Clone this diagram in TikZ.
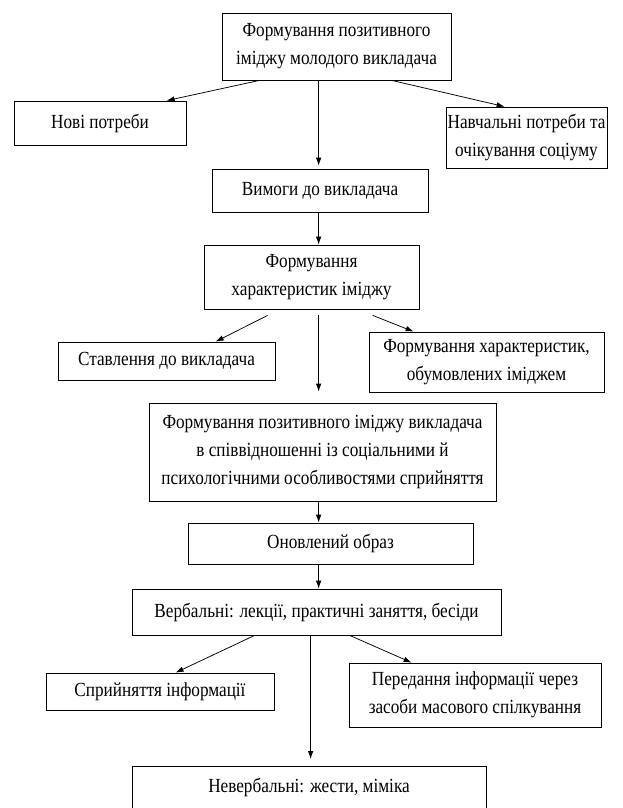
\documentclass[tikz,border=0pt]{standalone}
\usepackage{fontspec}
\setmainfont{Liberation Serif}[FakeStretch=0.86]
\usetikzlibrary{arrows.meta,calc}
\begin{document}
\begin{tikzpicture}[x=1pt,y=-1pt,
  box/.style={draw,line width=0.75pt,align=center,inner sep=0pt,
    font=\fontsize{20}{28}\selectfont},
  arr/.style={-{Latex[length=8pt,width=5.5pt]},line width=0.75pt}]
\useasboundingbox (0,0) rectangle (622,808);
% boxes
\node[box,minimum width=229pt,minimum height=67pt] (b1) at (336.5,46.5) {Формування позитивного\\іміджу молодого викладача};
\node[box,minimum width=172pt,minimum height=44pt] (nove) at (100,123) {Нові потреби};
\node[box,minimum width=161pt,minimum height=61pt] (navch) at (526.5,137.5) {Навчальні потреби та\\очікування соціуму};
\node[box,minimum width=216pt,minimum height=43pt] (vym) at (320,190.5) {Вимоги до викладача};
\node[box,minimum width=215pt,minimum height=64pt] (chr) at (311.5,277) {Формування\\характеристик іміджу};
\node[box,minimum width=217pt,minimum height=38pt] (stav) at (166.5,361) {Ставлення до викладача};
\node[box,minimum width=235pt,minimum height=60pt] (obum) at (486.5,362) {Формування характеристик,\\обумовлених іміджем};
\node[box,minimum width=347pt,minimum height=98pt] (big) at (322.5,452) {Формування позитивного іміджу викладача\\в співвідношенні із соціальними й\\психологічними особливостями сприйняття};
\node[box,minimum width=285pt,minimum height=41pt] (onov) at (330.5,543.5) {Оновлений образ};
\node[box,minimum width=369pt,minimum height=46pt] (verb) at (316.5,612) {Вербальні: лекції, практичні заняття, бесіди};
\node[box,minimum width=228pt,minimum height=37pt] (spr) at (160,691.5) {Сприйняття інформації};
\node[box,minimum width=252pt,minimum height=64pt] (pered) at (475,695) {Передання інформації через\\засоби масового спілкування};
\node[box,minimum width=354pt,minimum height=78pt,anchor=north,text depth=40pt] (never) at (309,766) {Невербальні: жести, міміка};
% arrows
\draw[arr] ($(b1.south west)+(38,0)$) -- ($(nove.north west)+(153,0)$);
\draw[arr] ($(b1.south west)+(97,0)$) -- ($(vym.north west)+(107,-3)$);
\draw[arr] ($(b1.south west)+(170,0)$) -- ($(navch.north west)+(59,0)$);
\draw[arr] ($(vym.south west)+(107,0)$) -- ($(chr.north west)+(115,0)$);
\coordinate (c1) at ($(chr.south west)+(64,6)$);
\coordinate (c2) at ($(chr.south west)+(115,6)$);
\coordinate (c3) at ($(chr.south west)+(169,6)$);
\draw[arr] (c1) -- ($(stav.north west)+(158,0)$);
\draw[arr] (c2) -- ($(big.north west)+(170,-11)$);
\draw[arr] (c3) -- ($(obum.north west)+(45,0)$);
\draw[arr] ($(big.south west)+(170,0)$) -- ($(onov.north west)+(131,0)$);
\draw[arr] ($(onov.south west)+(131,0)$) -- ($(verb.north west)+(187,0)$);
\draw[arr] ($(verb.south west)+(123,0)$) -- ($(spr.north west)+(130,0)$);
\draw[arr] ($(verb.south west)+(179,0)$) -- ($(never.north west)+(179,-7)$);
\draw[arr] ($(verb.south west)+(218,0)$) -- ($(pered.north west)+(63,0)$);
\end{tikzpicture}
\end{document}
